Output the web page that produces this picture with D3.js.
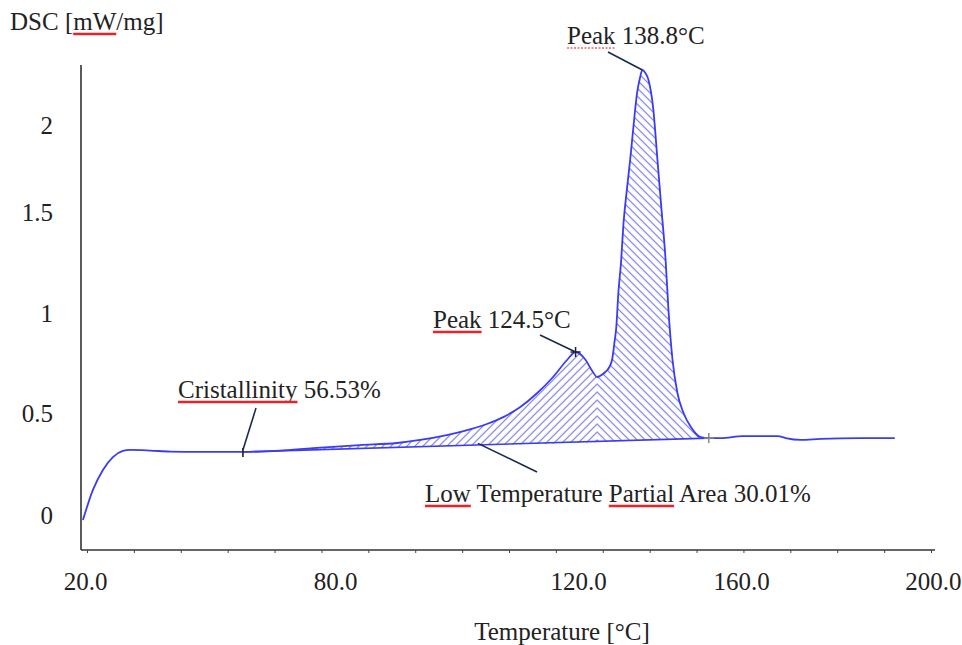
<!DOCTYPE html>
<html><head><meta charset="utf-8">
<script src="https://cdn.jsdelivr.net/npm/d3@7"></script>
<style>
body{margin:0;background:#fff}
svg{display:block}
text{font-family:"Liberation Serif","Times New Roman",serif;fill:#222}
</style>
</head><body>
<svg id="chart" width="962" height="645"></svg>
<script>
// ---- data ----
const temperature = [19.5, 21.9, 24.3, 26.7, 29.1, 30.8, 35.6, 40.4, 47.6, 57.9, 66.8, 74.7, 84.1, 90.2, 94.0, 98.4, 101.0, 105.0, 107.7, 110.5, 113.3, 115.9, 118.2, 119.6, 121.7, 123.5, 124.7, 125.4, 126.7, 127.7, 128.4, 128.9, 129.4, 129.9, 130.6, 131.1, 131.9, 132.8, 133.6, 134.5, 135.2, 135.8, 136.5, 137.3, 138.5, 139.5, 140.5, 141.5, 142.2, 143.2, 144.4, 145.9, 147.7, 150.1, 152.1, 155.1, 160.4, 163.9, 167.6, 169.2, 172.3, 176.4, 184.6, 191.7];
const dsc = [-0.025, 0.123, 0.221, 0.284, 0.314, 0.319, 0.316, 0.311, 0.309, 0.309, 0.316, 0.328, 0.343, 0.353, 0.368, 0.392, 0.410, 0.446, 0.480, 0.530, 0.600, 0.680, 0.765, 0.805, 0.770, 0.710, 0.680, 0.685, 0.705, 0.730, 0.770, 0.845, 0.930, 1.099, 1.262, 1.426, 1.609, 1.799, 1.989, 2.184, 2.270, 2.316, 2.300, 2.259, 2.086, 1.799, 1.511, 1.262, 1.015, 0.765, 0.600, 0.500, 0.431, 0.382, 0.377, 0.377, 0.387, 0.387, 0.387, 0.377, 0.368, 0.373, 0.377, 0.377];
const xTickValues = [20, 80, 120, 160, 200];
const yTickValues = [0, 0.5, 1, 1.5, 2];
const minorTickCount = 19;
const baselineStart = [57.9, 0.309];
const baselineEnd = [152.1, 0.377];
const splitTemperature = 124.7;       // valley where hatching direction changes
const peakLow = [119.6, 0.805];
const peakHigh = [135.8, 2.316];
const endMarker = [152.1, 0.377];
const lowAreaPoint = [105.0, 0.351];
const yAxisTitle = "DSC [mW/mg]";
const xAxisTitle = "Temperature [°C]";
const labelPeakHigh = "Peak 138.8°C";
const labelPeakLow = "Peak 124.5°C";
const labelCryst = "Cristallinity 56.53%";
const labelLow = "Low Temperature Partial Area 30.01%";

// ---- layout ----
const svg = d3.select("#chart");
const FONT = 25;
const axisLeftX = 81, axisBottomY = 550, axisTopY = 65, axisRightX = 935;

const x = d3.scaleLinear().domain(xTickValues).range([85, 335, 578, 741, 935]);
const y = d3.scaleLinear().domain(yTickValues).range([515, 413, 313, 212, 125]);

const pts = temperature.map((t, i) => [t, dsc[i]]);

// hatch patterns
const defs = svg.append("defs");
const splitX = x(splitTemperature);
const s = 8;
function pattern(id, dir) {
  const p = defs.append("pattern").attr("id", id).attr("patternUnits", "userSpaceOnUse")
    .attr("x", splitX).attr("y", 0).attr("width", s).attr("height", s);
  const d = dir === "/" ?
    `M0,${s} L${s},0 M${-s/2},${s/2} L${s/2},${-s/2} M${s/2},${s*1.5} L${s*1.5},${s/2}` :
    `M0,0 L${s},${s} M${-s/2},${s/2} L${s/2},${s*1.5} M${s/2},${-s/2} L${s*1.5},${s/2}`;
  p.append("path").attr("d", d).attr("stroke", "#7373ea").attr("stroke-width", 1.1).attr("fill", "none");
}
pattern("hatchL", "/");
pattern("hatchR", "\\");
defs.append("clipPath").attr("id", "clipL").append("rect")
  .attr("x", 0).attr("y", 0).attr("width", splitX).attr("height", 645);
defs.append("clipPath").attr("id", "clipR").append("rect")
  .attr("x", splitX).attr("y", 0).attr("width", 962 - splitX).attr("height", 645);

// area between curve and baseline
const baseAt = t => baselineStart[1] + (baselineEnd[1] - baselineStart[1]) * (t - baselineStart[0]) / (baselineEnd[0] - baselineStart[0]);
const areaPts = pts.filter(p => p[0] >= baselineStart[0] && p[0] <= baselineEnd[0]);
const area = d3.area().x(d => x(d[0])).y0(d => y(baseAt(d[0]))).y1(d => y(d[1])).curve(d3.curveMonotoneX);
svg.append("path").datum(areaPts).attr("d", area).attr("fill", "url(#hatchL)").attr("clip-path", "url(#clipL)");
svg.append("path").datum(areaPts).attr("d", area).attr("fill", "url(#hatchR)").attr("clip-path", "url(#clipR)");

// baseline
svg.append("line")
  .attr("x1", x(baselineStart[0])).attr("y1", y(baselineStart[1]))
  .attr("x2", x(baselineEnd[0])).attr("y2", y(baselineEnd[1]))
  .attr("stroke", "#3b3bf2").attr("stroke-width", 1.6);

// curve
const line = d3.line().x(d => x(d[0])).y(d => y(d[1])).curve(d3.curveMonotoneX);
svg.append("path").datum(pts).attr("d", line).attr("fill", "none")
  .attr("stroke", "#3b3bf2").attr("stroke-width", 1.8);

// axes
svg.append("line").attr("x1", axisLeftX).attr("x2", axisLeftX).attr("y1", axisTopY).attr("y2", axisBottomY)
  .attr("stroke", "#333").attr("stroke-width", 1.6);
svg.append("line").attr("x1", axisLeftX).attr("x2", axisRightX).attr("y1", axisBottomY).attr("y2", axisBottomY)
  .attr("stroke", "#333").attr("stroke-width", 1.6);

const minor = d3.scaleLinear().domain([0, minorTickCount - 1]).range([87, 931]);
const gMinor = svg.append("g").attr("transform", `translate(0,${axisBottomY})`)
  .call(d3.axisBottom(minor).tickValues(d3.range(minorTickCount)).tickFormat("").tickSize(3));
gMinor.select(".domain").remove();
gMinor.selectAll("line").attr("stroke", "#444").attr("stroke-width", 1);

const gx = svg.append("g").attr("transform", `translate(0,${axisBottomY})`)
  .call(d3.axisBottom(x).tickValues(xTickValues).tickFormat(d3.format(".1f")).tickSize(0).tickPadding(22));
gx.select(".domain").remove();
gx.selectAll("text").attr("font-size", FONT).attr("font-family", null).style("fill", "#222");
// keep the last label inside the page
gx.selectAll("text").filter(d => d === xTickValues[xTickValues.length - 1])
  .attr("text-anchor", "end").attr("dx", 26);

const gy = svg.append("g").attr("transform", `translate(${axisLeftX},0)`)
  .call(d3.axisLeft(y).tickValues(yTickValues).tickFormat(d => String(d)).tickSize(0).tickPadding(28));
gy.select(".domain").remove();
gy.selectAll("text").attr("font-size", FONT).attr("font-family", null).style("fill", "#222");

// text helper with red underlines under given words
function label(str, tx, ty, underlineWords, faint) {
  const t = svg.append("text").attr("x", tx).attr("y", ty).attr("font-size", FONT).text(str);
  const node = t.node();
  underlineWords.forEach(w => {
    const i = str.indexOf(w);
    const x0 = node.getStartPositionOfChar(i).x;
    const wdt = node.getSubStringLength(i, w.length);
    svg.append("line").attr("x1", x0).attr("x2", x0 + wdt).attr("y1", ty + 4).attr("y2", ty + 4)
      .attr("stroke", "#e8232a").attr("stroke-width", faint ? 1.5 : 2.6)
      .attr("stroke-dasharray", faint ? "2,1.5" : null).attr("opacity", faint ? 0.7 : 1);
  });
  return t;
}

label(yAxisTitle, 10, 30, ["mW"]);
svg.append("text").attr("x", 562).attr("y", 640).attr("text-anchor", "middle").attr("font-size", FONT).text(xAxisTitle);

// annotations
const leader = (x1, y1, x2, y2) => svg.append("line").attr("x1", x1).attr("y1", y1).attr("x2", x2).attr("y2", y2)
  .attr("stroke", "#1c2b4a").attr("stroke-width", 1.6);

label(labelPeakHigh, 567, 44, ["Peak"], true);
leader(608, 52, x(peakHigh[0]), y(peakHigh[1]));

label(labelPeakLow, 433, 328, ["Peak"]);
leader(540, 335, x(peakLow[0]), y(peakLow[1]));
const plus = (cx, cy, c) => {
  svg.append("line").attr("x1", cx - 5).attr("x2", cx + 5).attr("y1", cy).attr("y2", cy).attr("stroke", c).attr("stroke-width", 1.5);
  svg.append("line").attr("x1", cx).attr("x2", cx).attr("y1", cy - 5).attr("y2", cy + 5).attr("stroke", c).attr("stroke-width", 1.5);
};
plus(x(peakLow[0]), y(peakLow[1]), "#222");
plus(x(endMarker[0]), y(endMarker[1]), "#888");

label(labelCryst, 178, 398, ["Cristallinity"]);
const cx0 = x(baselineStart[0]), cy0 = y(baselineStart[1]);
leader(256, 408, cx0, cy0 - 2);
svg.append("line").attr("x1", cx0).attr("x2", cx0).attr("y1", cy0 - 4).attr("y2", cy0 + 5).attr("stroke", "#222").attr("stroke-width", 1.6);

label(labelLow, 425, 502, ["Low", "Partial"]);
leader(x(lowAreaPoint[0]) - 9, y(lowAreaPoint[1]), 537, 472);
</script>
</body></html>
